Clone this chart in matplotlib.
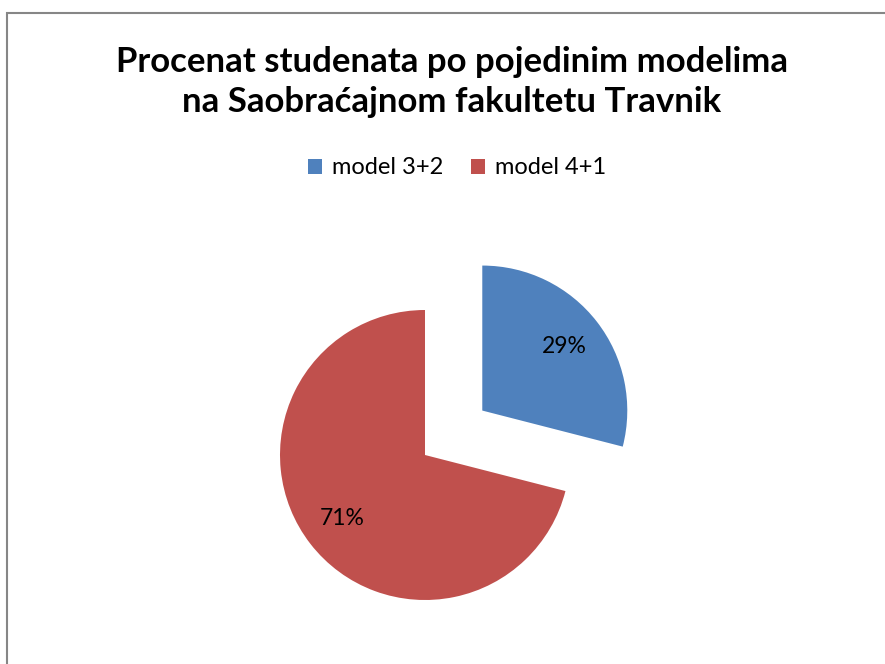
import matplotlib
matplotlib.use('Agg')
import matplotlib.pyplot as plt
from matplotlib.patches import Rectangle, Patch

# data
labels = ['model 3+2', 'model 4+1']
shares = [29, 71]
colors = ['#4F81BD', '#C0504D']
title = 'Procenat studenata po pojedinim modelima\nna Saobraćajnom fakultetu Travnik'

plt.rcParams['font.family'] = ['Lato', 'DejaVu Sans']

W, H = 885, 664
fig = plt.figure(figsize=(W / 100, H / 100), dpi=100)

# chart area border (only left and top visible in the crop)
fig.patches.append(Rectangle((7 / W, -0.1), 1.2, 1 - 13 / H + 0.1,
                             transform=fig.transFigure, fill=False,
                             edgecolor='#868686', linewidth=1.5))

fig.text(452 / W, 1 - 82 / H, title, ha='center', va='center',
         fontsize=25, fontweight='bold', linespacing=1.32)

# pie axes: 400x400 px box centred on the pie centre, radius = 145 px
cx, cy, r, box = 425, 455, 145, 400
ax = fig.add_axes([(cx - box / 2) / W, 1 - (cy + box / 2) / H, box / W, box / H])
ax.pie(shares, colors=colors, startangle=90, counterclock=False,
       explode=[0.5, 0], autopct='%1.0f%%', pctdistance=0.72,
       textprops={'fontsize': 16.5, 'color': 'black'})
lim = box / 2 / r
ax.set_xlim(-lim, lim)
ax.set_ylim(-lim, lim)
ax.set_aspect('equal')
ax.axis('off')

handles = [Patch(facecolor=c, label=l) for c, l in zip(colors, labels)]
fig.legend(handles=handles, loc='center', bbox_to_anchor=(457 / W, 1 - 168 / H),
           ncol=2, frameon=False, fontsize=17, handlelength=0.6, handleheight=0.6,
           handletextpad=0.4, columnspacing=1.2)

fig.savefig('out.png', dpi=100)
